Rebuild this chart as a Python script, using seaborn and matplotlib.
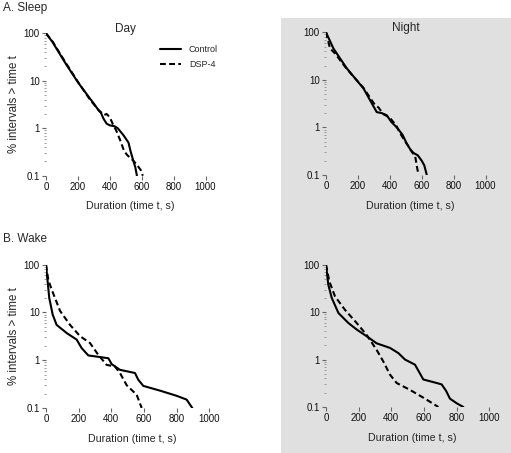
import pandas as pd
import seaborn as sns
import matplotlib
matplotlib.use("Agg")
import matplotlib.pyplot as plt
from matplotlib.patches import Rectangle
from matplotlib.ticker import LogLocator, NullFormatter

# survival curves, % of intervals longer than t
sleep_day_ctrl_t = [0, 40, 120, 200, 276, 300, 329, 345, 360, 380, 400, 430, 450, 486, 517, 530, 545, 560, 570]
sleep_day_ctrl_p = [100, 66, 24, 9.3, 4.2, 3.3, 2.4, 2.1, 1.6, 1.25, 1.15, 1.1, 1.0, 0.71, 0.5, 0.33, 0.22, 0.15, 0.1]
sleep_day_dsp_t = [0, 40, 120, 200, 276, 330, 365, 380, 400, 420, 440, 465, 490, 510, 540, 570, 595, 607]
sleep_day_dsp_p = [100, 68, 25, 9.5, 4.0, 2.4, 1.9, 2.0, 1.7, 1.2, 0.9, 0.56, 0.33, 0.27, 0.22, 0.17, 0.13, 0.1]

sleep_night_ctrl_t = [0, 46, 130, 235, 318, 350, 381, 410, 444, 480, 507, 530, 549, 575, 600, 616, 632]
sleep_night_ctrl_p = [100, 46, 17.5, 6.6, 2.1, 2.0, 1.8, 1.3, 1.0, 0.7, 0.45, 0.34, 0.29, 0.26, 0.2, 0.16, 0.1]
sleep_night_dsp_t = [0, 25, 60, 88, 130, 235, 300, 330, 360, 400, 440, 465, 490, 517, 540, 559, 570, 580]
sleep_night_dsp_p = [100, 46, 35, 26, 17, 6.8, 3.2, 2.6, 1.9, 1.6, 1.1, 0.75, 0.55, 0.4, 0.3, 0.25, 0.15, 0.1]

wake_day_ctrl_t = [0, 8, 20, 41, 65, 127, 188, 218, 259, 320, 382, 402, 453, 545, 565, 596, 700, 800, 861, 896]
wake_day_ctrl_p = [100, 52, 20, 9, 5.5, 3.7, 2.7, 1.8, 1.26, 1.18, 1.1, 0.83, 0.63, 0.54, 0.39, 0.29, 0.23, 0.18, 0.15, 0.1]
wake_day_dsp_t = [0, 14, 35, 86, 147, 208, 269, 320, 371, 422, 453, 494, 555, 586]
wake_day_dsp_p = [100, 48, 30, 10.8, 5.5, 3.2, 2.3, 1.3, 0.8, 0.74, 0.54, 0.3, 0.19, 0.1]

wake_night_ctrl_t = [0, 14, 35, 76, 137, 188, 249, 310, 392, 443, 484, 545, 596, 650, 708, 735, 759, 800, 841]
wake_night_ctrl_p = [100, 38, 20, 9.6, 5.9, 4.3, 3.1, 2.2, 1.76, 1.37, 1.0, 0.78, 0.38, 0.34, 0.30, 0.22, 0.15, 0.12, 0.1]
wake_night_dsp_t = [0, 20, 55, 116, 188, 249, 310, 351, 392, 433, 514, 606, 688]
wake_night_dsp_p = [100, 45, 21.5, 11.2, 5.9, 3.3, 1.6, 0.91, 0.48, 0.32, 0.23, 0.15, 0.1]

groups = ["Control", "DSP-4"]
xticks = [0, 200, 400, 600, 800, 1000]
yticks = [0.1, 1, 10, 100]
ytick_labels = ["0.1", "1", "10", "100"]

sns.set_style("ticks")
plt.rcParams["font.family"] = ["Liberation Sans", "DejaVu Sans"]


def frame(ct, cp, dt, dp):
    return pd.DataFrame({
        "t": ct + dt,
        "p": cp + dp,
        "group": [groups[0]] * len(ct) + [groups[1]] * len(dt),
    })


def panel(ax, df, title=None, legend=False):
    sns.lineplot(data=df, x="t", y="p", style="group", style_order=groups,
                 dashes={"Control": "", "DSP-4": (2.8, 1.6)}, color="black",
                 linewidth=1.5, sort=False, estimator=None, legend=legend, ax=ax)
    ax.set_yscale("log")
    ax.set_xlim(0, 1000)
    ax.set_ylim(0.1, 100)
    ax.set_facecolor("none")
    for s in ax.spines.values():
        s.set_visible(False)
    ax.set_xticks(xticks)
    ax.set_yticks(yticks, ytick_labels)
    ax.yaxis.set_minor_locator(LogLocator(base=10, subs=range(2, 10)))
    ax.yaxis.set_minor_formatter(NullFormatter())
    ax.tick_params(which="major", length=3, width=0.8, color="#666666",
                   labelsize=7, pad=1.5, labelcolor="#111111")
    ax.tick_params(which="minor", axis="y", length=1.6, width=0.7, color="#999999")
    ax.set_xlabel("Duration (time t, s)", fontsize=7.7)
    ax.xaxis.set_label_coords(0.53, -0.18)
    ax.set_ylabel("")
    if title:
        ax.text(0.5, 1.03, title, transform=ax.transAxes, fontsize=8.5,
                ha="center", va="center")
    if legend:
        ax.legend(loc="upper left", bbox_to_anchor=(0.715, 0.915), frameon=False,
                  fontsize=6.5, handlelength=2.3, handletextpad=0.9,
                  labelspacing=0.65, borderpad=0, borderaxespad=0)


W, H = 511, 453
fig = plt.figure(figsize=(W / 100, H / 100), dpi=100)
fig.patches.append(Rectangle((281 / W, 0), 1 - 281 / W, 1 - 18 / H,
                             transform=fig.transFigure, facecolor="#e0e0e0",
                             edgecolor="none", zorder=-10))

ax1 = fig.add_axes([46 / W, 1 - 175.7 / H, 159.5 / W, 142.4 / H])
ax2 = fig.add_axes([326 / W, 1 - 175 / H, 159.5 / W, 142.7 / H])
ax3 = fig.add_axes([46 / W, 1 - 408 / H, 163.3 / W, 143.3 / H])
ax4 = fig.add_axes([326 / W, 1 - 407 / H, 163.3 / W, 142.3 / H])

panel(ax1, frame(sleep_day_ctrl_t, sleep_day_ctrl_p, sleep_day_dsp_t, sleep_day_dsp_p),
      title="Day", legend=True)
panel(ax2, frame(sleep_night_ctrl_t, sleep_night_ctrl_p, sleep_night_dsp_t, sleep_night_dsp_p),
      title="Night")
panel(ax3, frame(wake_day_ctrl_t, wake_day_ctrl_p, wake_day_dsp_t, wake_day_dsp_p))
panel(ax4, frame(wake_night_ctrl_t, wake_night_ctrl_p, wake_night_dsp_t, wake_night_dsp_p))

for ax in (ax1, ax3):
    ax.set_ylabel("% intervals > time t", fontsize=8.3)
    ax.yaxis.set_label_coords(-0.16, 0.5)

fig.text(3 / W, 1 - 8 / H, "A. Sleep", fontsize=8.5, va="center", ha="left")
fig.text(3 / W, 1 - 239 / H, "B. Wake", fontsize=8.5, va="center", ha="left")

fig.savefig("out.png", dpi=100)
